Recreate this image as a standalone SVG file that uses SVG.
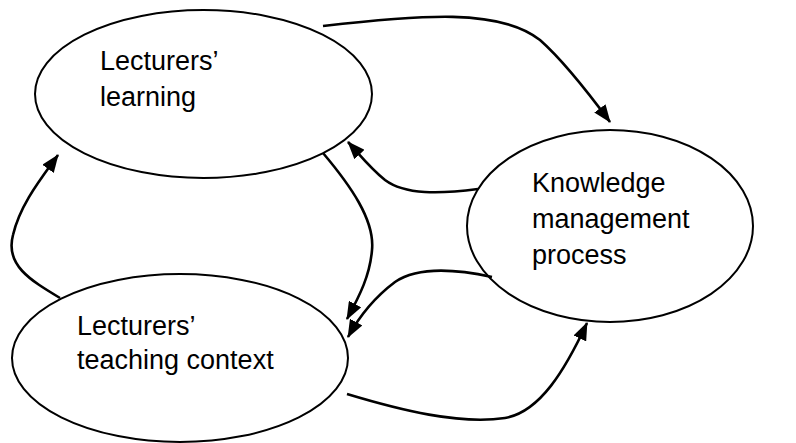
<svg xmlns="http://www.w3.org/2000/svg" width="796" height="443" viewBox="0 0 796 443">
<defs>
<style>
.node ellipse{fill:#fff;stroke:#000;stroke-width:2}
.node text{font-family:"Liberation Sans",Arial,sans-serif;font-size:27px;fill:#000}
.conn path{fill:none;stroke:#000;stroke-width:2.6;marker-end:url(#ah)}
</style>
<marker id="ah" markerUnits="userSpaceOnUse" markerWidth="18" markerHeight="14" refX="17" refY="7" orient="auto" viewBox="0 0 18 14">
<path d="M0,0 L18,7 L0,14 z" fill="#000"/>
</marker>
</defs>
<rect width="796" height="443" fill="#fff"/>
<g id="n-learning" class="node">
<ellipse cx="203.5" cy="94" rx="168.5" ry="84"/>
<text x="100" y="70">Lecturers’</text>
<text x="100" y="106">learning</text>
</g>
<g id="n-km" class="node">
<ellipse cx="610" cy="226" rx="143" ry="96"/>
<text x="532" y="192">Knowledge</text>
<text x="532" y="228">management</text>
<text x="532" y="264">process</text>
</g>
<g id="n-teaching" class="node">
<ellipse cx="180" cy="358" rx="168" ry="84"/>
<text x="77" y="335">Lecturers’</text>
<text x="77" y="369">teaching context</text>
</g>
<g id="connectors" class="conn">
<path d="M323,26 C420,15 500,8 540,40 C565,62 590,95 610,122"/>
<path d="M478,189 C440,194 405,195 385,180 C370,168 360,155 348,142"/>
<path d="M323,153 C350,185 375,220 372,250 C370,275 360,295 347,319"/>
<path d="M492,277 C460,270 420,265 395,282 C375,297 360,315 348,337"/>
<path d="M347,394 C400,410 460,425 505,418 C540,412 565,370 587,323"/>
<path d="M60,298 C30,280 5,265 13,235 C20,205 40,180 58,155"/>
</g>
</svg>
